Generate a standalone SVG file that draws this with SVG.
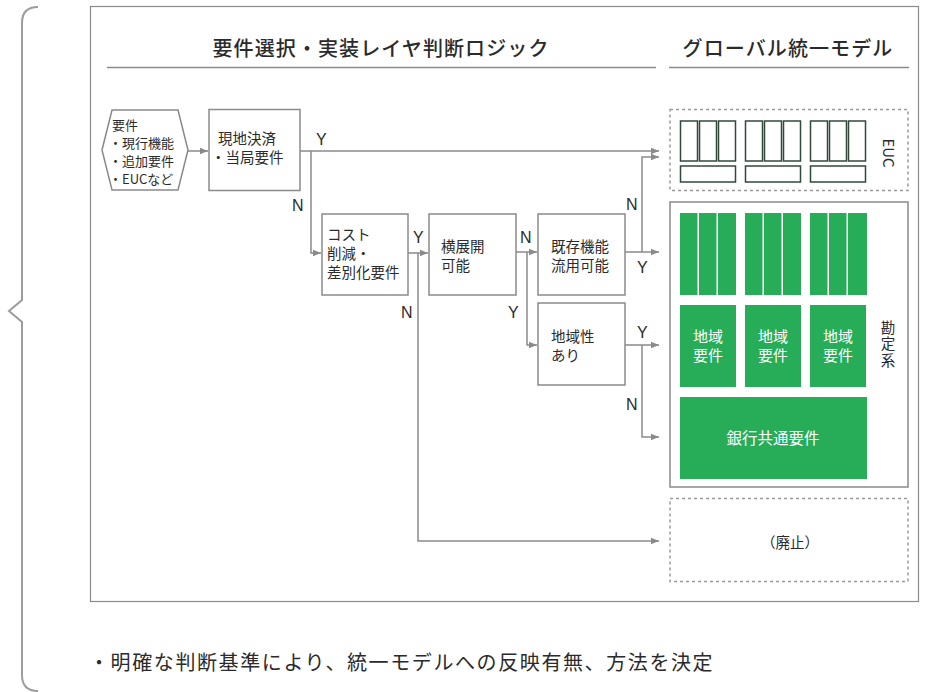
<svg xmlns="http://www.w3.org/2000/svg" width="927" height="692" viewBox="0 0 927 692">
<defs>
<style>
text{font-family:"Noto Sans CJK JP","Noto Sans",sans-serif;fill:#2b2b2b}
.t{font-size:14.5px}
.s{font-size:13px}
.yn{font-family:"Liberation Sans","Noto Sans",sans-serif;font-size:16px}
.h{font-size:20px;letter-spacing:1.1px;font-weight:500}
.note{font-size:20px;letter-spacing:1.6px}
.w{fill:#ffffff;font-size:15px}
.box{fill:#fff;stroke:#8a8a8a;stroke-width:1.5}
.ln{fill:none;stroke:#8a8a8a;stroke-width:1.5}
.dot{fill:none;stroke:#9a9a9a;stroke-width:1.5;stroke-dasharray:3 3}
.euc{fill:#fff;stroke:#2f4a38;stroke-width:1.5}
.g{fill:#27ad57}
</style>
<marker id="ah" viewBox="0 0 8 8" refX="8" refY="4" markerWidth="8" markerHeight="8" markerUnits="userSpaceOnUse" orient="auto">
<path d="M0,0.8 L8,4 L0,7.2 z" fill="#8a8a8a"/>
</marker>
</defs>
<rect width="927" height="692" fill="#fff"/>

<g id="brace"><path d="M38,7 Q22,7 22,23 L22,300 L9,311 L22,322 L22,675 Q22,691 38,691" fill="none" stroke="#9c9c9c" stroke-width="2"/></g>
<g id="frame"><rect x="90.5" y="6.5" width="828" height="595" fill="none" stroke="#8a8a8a" stroke-width="1.2"/></g>

<g id="header-left"><text class="h" x="381" y="56" text-anchor="middle">要件選択・実装レイヤ判断ロジック</text>
<line x1="107" y1="67.5" x2="656" y2="67.5" stroke="#8a8a8a" stroke-width="1.5"/></g>
<g id="header-right"><text class="h" x="788" y="56" text-anchor="middle">グローバル統一モデル</text>
<line x1="669" y1="67.5" x2="909" y2="67.5" stroke="#8a8a8a" stroke-width="1.5"/></g>

<g id="connectors">
<line class="ln" x1="188" y1="151" x2="208" y2="151" marker-end="url(#ah)"/>
<line class="ln" x1="300" y1="151" x2="659" y2="151" marker-end="url(#ah)"/>
<polyline class="ln" points="311,151 311,253 321,253" marker-end="url(#ah)"/>
<line class="ln" x1="408" y1="253" x2="428" y2="253" marker-end="url(#ah)"/>
<polyline class="ln" points="418,253 418,541 659,541" marker-end="url(#ah)"/>
<line class="ln" x1="516" y1="252" x2="537" y2="252" marker-end="url(#ah)"/>
<polyline class="ln" points="527,252 527,345 537,345" marker-end="url(#ah)"/>
<line class="ln" x1="625" y1="252" x2="659" y2="252" marker-end="url(#ah)"/>
<polyline class="ln" points="642,252 642,157 659,157" marker-end="url(#ah)"/>
<line class="ln" x1="625" y1="345" x2="659" y2="345" marker-end="url(#ah)"/>
<polyline class="ln" points="642,345 642,437 659,437" marker-end="url(#ah)"/>
<text class="yn" x="316" y="145">Y</text>
<text class="yn" x="292" y="211">N</text>
<text class="yn" x="413" y="243">Y</text>
<text class="yn" x="401" y="318">N</text>
<text class="yn" x="520" y="243">N</text>
<text class="yn" x="508" y="318">Y</text>
<text class="yn" x="626" y="210">N</text>
<text class="yn" x="637" y="273">Y</text>
<text class="yn" x="637" y="338">Y</text>
<text class="yn" x="626" y="410">N</text>
</g>

<g id="input"><polygon class="box" points="102,150 112,110 178,110 188,150 178,190 112,190"/>
<text class="s" x="112" y="130">要件</text>
<text class="s" x="109" y="148">・現行機能</text>
<text class="s" x="109" y="166">・追加要件</text>
<text class="s" x="109" y="184">・EUCなど</text></g>

<g id="n-genchi"><rect class="box" x="209" y="109.5" width="91" height="81"/>
<text class="t" x="218" y="144">現地決済</text>
<text class="t" x="211" y="163">・当局要件</text></g>

<g id="n-cost"><rect class="box" x="322" y="214" width="86" height="81"/>
<text class="t" x="327" y="240">コスト</text>
<text class="t" x="327" y="259">削減・</text>
<text class="t" x="327" y="278">差別化要件</text></g>

<g id="n-yoko"><rect class="box" x="429" y="214" width="87" height="81"/>
<text class="t" x="441" y="252">横展開</text>
<text class="t" x="441" y="271">可能</text></g>

<g id="n-kizon"><rect class="box" x="538" y="214" width="87" height="81"/>
<text class="t" x="551" y="252">既存機能</text>
<text class="t" x="551" y="271">流用可能</text></g>

<g id="n-chiiki"><rect class="box" x="538" y="303" width="87" height="82"/>
<text class="t" x="551" y="342">地域性</text>
<text class="t" x="551" y="361">あり</text></g>

<g id="euc"><rect class="dot" x="670" y="109.5" width="238" height="81"/>
<rect class="euc" x="680.5" y="121" width="17" height="40"/>
<rect class="euc" x="699.5" y="121" width="17" height="40"/>
<rect class="euc" x="718.5" y="121" width="17" height="40"/>
<rect class="euc" x="680.5" y="166" width="55" height="16"/>
<rect class="euc" x="745.5" y="121" width="17" height="40"/>
<rect class="euc" x="764.5" y="121" width="17" height="40"/>
<rect class="euc" x="783.5" y="121" width="17" height="40"/>
<rect class="euc" x="745.5" y="166" width="55" height="16"/>
<rect class="euc" x="810.5" y="121" width="17" height="40"/>
<rect class="euc" x="829.5" y="121" width="17" height="40"/>
<rect class="euc" x="848.5" y="121" width="17" height="40"/>
<rect class="euc" x="810.5" y="166" width="55" height="16"/>
<text class="t" transform="translate(883,153) rotate(90)" text-anchor="middle" style="font-size:15px">EUC</text></g>

<g id="kanjo"><rect class="box" x="670" y="202" width="238" height="285"/>
<rect class="g" x="680" y="213" width="17.5" height="82"/>
<rect class="g" x="699" y="213" width="17.5" height="82"/>
<rect class="g" x="718" y="213" width="18" height="82"/>
<rect class="g" x="745" y="213" width="17.5" height="82"/>
<rect class="g" x="764" y="213" width="17.5" height="82"/>
<rect class="g" x="783" y="213" width="18" height="82"/>
<rect class="g" x="810" y="213" width="17.5" height="82"/>
<rect class="g" x="829" y="213" width="17.5" height="82"/>
<rect class="g" x="848" y="213" width="19" height="82"/>
<rect class="g" x="680" y="305" width="56" height="82"/>
<text class="w" x="708" y="342" text-anchor="middle">地域</text>
<text class="w" x="708" y="361" text-anchor="middle">要件</text>
<rect class="g" x="745" y="305" width="56" height="82"/>
<text class="w" x="773" y="342" text-anchor="middle">地域</text>
<text class="w" x="773" y="361" text-anchor="middle">要件</text>
<rect class="g" x="810" y="305" width="56" height="82"/>
<text class="w" x="838" y="342" text-anchor="middle">地域</text>
<text class="w" x="838" y="361" text-anchor="middle">要件</text>
<rect class="g" x="680" y="397" width="187" height="82"/>
<text class="w" x="773" y="444" text-anchor="middle" style="font-size:15.5px">銀行共通要件</text>
<text class="t" x="888" y="320" writing-mode="tb" style="letter-spacing:2px">勘定系</text></g>

<g id="haishi"><rect class="dot" x="670" y="498.5" width="238" height="83"/>
<text class="t" x="790" y="548" text-anchor="middle">（廃止）</text></g>

<g id="note"><text class="note" x="89" y="670">・明確な判断基準により、統一モデルへの反映有無、方法を決定</text></g>
</svg>
